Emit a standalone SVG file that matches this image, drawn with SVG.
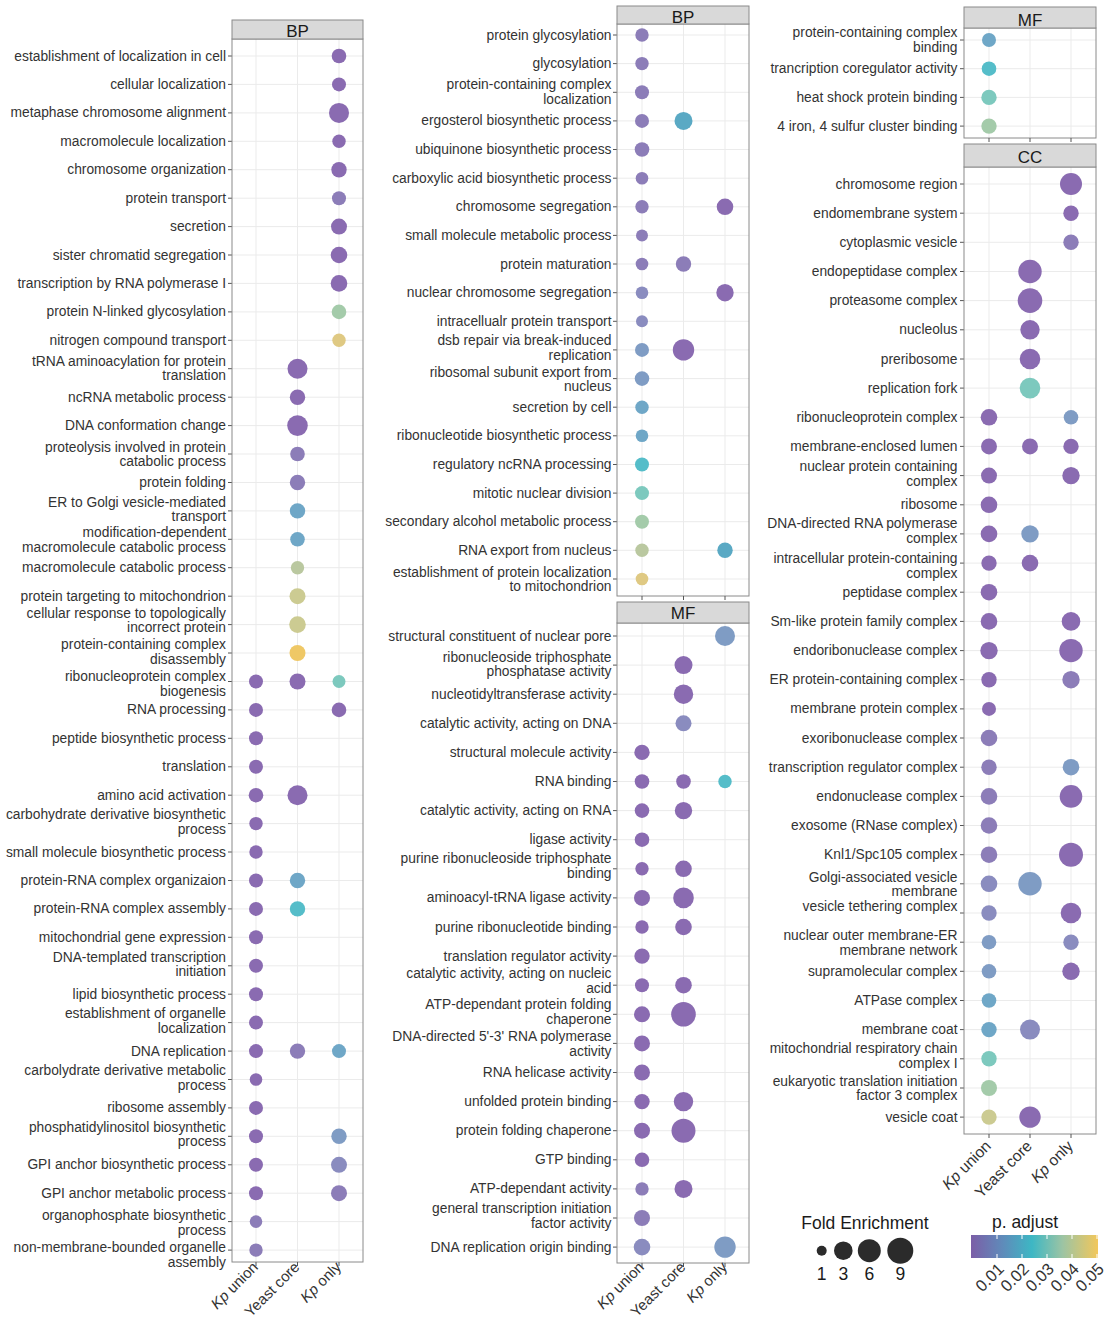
<svg xmlns="http://www.w3.org/2000/svg" width="1111" height="1322" viewBox="0 0 1111 1322">
<style>
text{font-family:"Liberation Sans",Arial,sans-serif;fill:#333}
.lb{font-size:13.8px;text-anchor:end}
.g{stroke:#ebebeb;stroke-width:1;fill:none}
.tk{stroke:#555;stroke-width:1;fill:none}
.bd{fill:none;stroke:#8a8a8a;stroke-width:1}
.bg{fill:#fff}
.st{fill:#d9d9d9;stroke:#8a8a8a;stroke-width:1}
.stt{font-size:17px;text-anchor:middle;fill:#1a1a1a}
.ax{font-size:15px;text-anchor:end}
.lg{font-size:17.5px;text-anchor:middle;fill:#1a1a1a}
.p1{fill:#8a6bb1}.p2{fill:#8c7db8}.pb{fill:#8a8cbf}.b1{fill:#7f9cc4}.b2{fill:#6fa7c7}.b3{fill:#5aa9c4}
.t1{fill:#55bdc9}.t2{fill:#7dc9be}.g1{fill:#a4cbaa}.g2{fill:#bac8a0}.y1{fill:#cccb92}.y2{fill:#dfc983}.y3{fill:#efc866}
</style>
<defs>
<linearGradient id="pg" x1="0" y1="0" x2="1" y2="0">
<stop offset="0" stop-color="#7b5ea7"/>
<stop offset="0.25" stop-color="#5f8bba"/>
<stop offset="0.48" stop-color="#3db7c4"/>
<stop offset="0.72" stop-color="#9cc4a4"/>
<stop offset="1" stop-color="#f2c75b"/>
</linearGradient>
</defs>
<rect width="1111" height="1322" fill="#fff"/>

<!-- ================= Panel 1 : BP ================= -->
<g id="panel-bp1">
<rect class="bg" x="232" y="39" width="131" height="1223"/>
<path class="g" d="M256 39V1262M297.5 39V1262M339 39V1262"/>
<g id="bp1-r00"><path class="g" d="M232 56H363"/><path class="tk" d="M228 56H232"/><text class="lb" x="226" y="60.5">establishment of localization in cell</text><circle class="p1" cx="339" cy="56" r="7.3"/></g>
<g id="bp1-r01"><path class="g" d="M232 84.4H363"/><path class="tk" d="M228 84.4H232"/><text class="lb" x="226" y="88.9">cellular localization</text><circle class="p1" cx="339" cy="84.4" r="7"/></g>
<g id="bp1-r02"><path class="g" d="M232 112.9H363"/><path class="tk" d="M228 112.9H232"/><text class="lb" x="226" y="117.4">metaphase chromosome alignment</text><circle class="p1" cx="339" cy="112.9" r="10"/></g>
<g id="bp1-r03"><path class="g" d="M232 141.3H363"/><path class="tk" d="M228 141.3H232"/><text class="lb" x="226" y="145.8">macromolecule localization</text><circle class="p1" cx="339" cy="141.3" r="6.7"/></g>
<g id="bp1-r04"><path class="g" d="M232 169.7H363"/><path class="tk" d="M228 169.7H232"/><text class="lb" x="226" y="174.2">chromosome organization</text><circle class="p1" cx="339" cy="169.7" r="7.7"/></g>
<g id="bp1-r05"><path class="g" d="M232 198.2H363"/><path class="tk" d="M228 198.2H232"/><text class="lb" x="226" y="202.7">protein transport</text><circle class="p2" cx="339" cy="198.2" r="7"/></g>
<g id="bp1-r06"><path class="g" d="M232 226.6H363"/><path class="tk" d="M228 226.6H232"/><text class="lb" x="226" y="231.1">secretion</text><circle class="p1" cx="339" cy="226.6" r="8"/></g>
<g id="bp1-r07"><path class="g" d="M232 255H363"/><path class="tk" d="M228 255H232"/><text class="lb" x="226" y="259.5">sister chromatid segregation</text><circle class="p1" cx="339" cy="255" r="8.3"/></g>
<g id="bp1-r08"><path class="g" d="M232 283.4H363"/><path class="tk" d="M228 283.4H232"/><text class="lb" x="226" y="287.9">transcription by RNA polymerase I</text><circle class="p1" cx="339" cy="283.4" r="8.3"/></g>
<g id="bp1-r09"><path class="g" d="M232 311.9H363"/><path class="tk" d="M228 311.9H232"/><text class="lb" x="226" y="316.4">protein N-linked glycosylation</text><circle class="g1" cx="339" cy="311.9" r="7.3"/></g>
<g id="bp1-r10"><path class="g" d="M232 340.3H363"/><path class="tk" d="M228 340.3H232"/><text class="lb" x="226" y="344.8">nitrogen compound transport</text><circle class="y2" cx="339" cy="340.3" r="6.7"/></g>
<g id="bp1-r11"><path class="g" d="M232 368.7H363"/><path class="tk" d="M228 368.7H232"/><text class="lb"><tspan x="226" y="365.5">tRNA aminoacylation for protein</tspan><tspan x="226" y="380.2">translation</tspan></text><circle class="p1" cx="297.5" cy="368.7" r="10"/></g>
<g id="bp1-r12"><path class="g" d="M232 397.2H363"/><path class="tk" d="M228 397.2H232"/><text class="lb" x="226" y="401.7">ncRNA metabolic process</text><circle class="p1" cx="297.5" cy="397.2" r="7.7"/></g>
<g id="bp1-r13"><path class="g" d="M232 425.6H363"/><path class="tk" d="M228 425.6H232"/><text class="lb" x="226" y="430.1">DNA conformation change</text><circle class="p1" cx="297.5" cy="425.6" r="10.3"/></g>
<g id="bp1-r14"><path class="g" d="M232 454H363"/><path class="tk" d="M228 454H232"/><text class="lb"><tspan x="226" y="451.5">proteolysis involved in protein</tspan><tspan x="226" y="466.2">catabolic process</tspan></text><circle class="p2" cx="297.5" cy="454" r="7.3"/></g>
<g id="bp1-r15"><path class="g" d="M232 482.5H363"/><path class="tk" d="M228 482.5H232"/><text class="lb" x="226" y="487">protein folding</text><circle class="p2" cx="297.5" cy="482.5" r="7.7"/></g>
<g id="bp1-r16"><path class="g" d="M232 510.9H363"/><path class="tk" d="M228 510.9H232"/><text class="lb"><tspan x="226" y="506.5">ER to Golgi vesicle-mediated</tspan><tspan x="226" y="521.2">transport</tspan></text><circle class="b2" cx="297.5" cy="510.9" r="7.7"/></g>
<g id="bp1-r17"><path class="g" d="M232 539.3H363"/><path class="tk" d="M228 539.3H232"/><text class="lb"><tspan x="226" y="537.1">modification-dependent</tspan><tspan x="226" y="551.8">macromolecule catabolic process</tspan></text><circle class="b2" cx="297.5" cy="539.3" r="7.3"/></g>
<g id="bp1-r18"><path class="g" d="M232 567.7H363"/><path class="tk" d="M228 567.7H232"/><text class="lb" x="226" y="572.2">macromolecule catabolic process</text><circle class="g2" cx="297.5" cy="567.7" r="6.7"/></g>
<g id="bp1-r19"><path class="g" d="M232 596.2H363"/><path class="tk" d="M228 596.2H232"/><text class="lb" x="226" y="600.7">protein targeting to mitochondrion</text><circle class="y1" cx="297.5" cy="596.2" r="8"/></g>
<g id="bp1-r20"><path class="g" d="M232 624.6H363"/><path class="tk" d="M228 624.6H232"/><text class="lb"><tspan x="226" y="617.5">cellular response to topologically</tspan><tspan x="226" y="632.2">incorrect protein</tspan></text><circle class="y1" cx="297.5" cy="624.6" r="8.3"/></g>
<g id="bp1-r21"><path class="g" d="M232 653H363"/><path class="tk" d="M228 653H232"/><text class="lb"><tspan x="226" y="648.8">protein-containing complex</tspan><tspan x="226" y="663.5">disassembly</tspan></text><circle class="y3" cx="297.5" cy="653" r="8"/></g>
<g id="bp1-r22"><path class="g" d="M232 681.5H363"/><path class="tk" d="M228 681.5H232"/><text class="lb"><tspan x="226" y="680.8">ribonucleoprotein complex</tspan><tspan x="226" y="695.5">biogenesis</tspan></text><circle class="p1" cx="256" cy="681.5" r="7"/><circle class="p1" cx="297.5" cy="681.5" r="8"/><circle class="t2" cx="339" cy="681.5" r="6.5"/></g>
<g id="bp1-r23"><path class="g" d="M232 709.9H363"/><path class="tk" d="M228 709.9H232"/><text class="lb" x="226" y="714.4">RNA processing</text><circle class="p1" cx="256" cy="709.9" r="7"/><circle class="p1" cx="339" cy="709.9" r="7.3"/></g>
<g id="bp1-r24"><path class="g" d="M232 738.3H363"/><path class="tk" d="M228 738.3H232"/><text class="lb" x="226" y="742.8">peptide biosynthetic process</text><circle class="p1" cx="256" cy="738.3" r="7"/></g>
<g id="bp1-r25"><path class="g" d="M232 766.8H363"/><path class="tk" d="M228 766.8H232"/><text class="lb" x="226" y="771.3">translation</text><circle class="p1" cx="256" cy="766.8" r="7"/></g>
<g id="bp1-r26"><path class="g" d="M232 795.2H363"/><path class="tk" d="M228 795.2H232"/><text class="lb" x="226" y="799.7">amino acid activation</text><circle class="p1" cx="256" cy="795.2" r="7.3"/><circle class="p1" cx="297.5" cy="795.2" r="10"/></g>
<g id="bp1-r27"><path class="g" d="M232 823.6H363"/><path class="tk" d="M228 823.6H232"/><text class="lb"><tspan x="226" y="818.8">carbohydrate derivative biosynthetic</tspan><tspan x="226" y="833.5">process</tspan></text><circle class="p1" cx="256" cy="823.6" r="6.7"/></g>
<g id="bp1-r28"><path class="g" d="M232 852H363"/><path class="tk" d="M228 852H232"/><text class="lb" x="226" y="856.5">small molecule biosynthetic process</text><circle class="p1" cx="256" cy="852" r="6.7"/></g>
<g id="bp1-r29"><path class="g" d="M232 880.5H363"/><path class="tk" d="M228 880.5H232"/><text class="lb" x="226" y="885">protein-RNA complex organizaion</text><circle class="p1" cx="256" cy="880.5" r="7"/><circle class="b2" cx="297.5" cy="880.5" r="7.7"/></g>
<g id="bp1-r30"><path class="g" d="M232 908.9H363"/><path class="tk" d="M228 908.9H232"/><text class="lb" x="226" y="913.4">protein-RNA complex assembly</text><circle class="p1" cx="256" cy="908.9" r="7"/><circle class="t1" cx="297.5" cy="908.9" r="7.7"/></g>
<g id="bp1-r31"><path class="g" d="M232 937.3H363"/><path class="tk" d="M228 937.3H232"/><text class="lb" x="226" y="941.8">mitochondrial gene expression</text><circle class="p1" cx="256" cy="937.3" r="7"/></g>
<g id="bp1-r32"><path class="g" d="M232 965.8H363"/><path class="tk" d="M228 965.8H232"/><text class="lb"><tspan x="226" y="961.5">DNA-templated transcription</tspan><tspan x="226" y="976.2">initiation</tspan></text><circle class="p1" cx="256" cy="965.8" r="7"/></g>
<g id="bp1-r33"><path class="g" d="M232 994.2H363"/><path class="tk" d="M228 994.2H232"/><text class="lb" x="226" y="998.7">lipid biosynthetic process</text><circle class="p1" cx="256" cy="994.2" r="7"/></g>
<g id="bp1-r34"><path class="g" d="M232 1022.6H363"/><path class="tk" d="M228 1022.6H232"/><text class="lb"><tspan x="226" y="1018.1">establishment of organelle</tspan><tspan x="226" y="1032.8">localization</tspan></text><circle class="p1" cx="256" cy="1022.6" r="7"/></g>
<g id="bp1-r35"><path class="g" d="M232 1051.1H363"/><path class="tk" d="M228 1051.1H232"/><text class="lb" x="226" y="1055.6">DNA replication</text><circle class="p1" cx="256" cy="1051.1" r="7"/><circle class="p2" cx="297.5" cy="1051.1" r="7.7"/><circle class="b2" cx="339" cy="1051.1" r="7"/></g>
<g id="bp1-r36"><path class="g" d="M232 1079.5H363"/><path class="tk" d="M228 1079.5H232"/><text class="lb"><tspan x="226" y="1074.8">carbolydrate derivative metabolic</tspan><tspan x="226" y="1089.5">process</tspan></text><circle class="p1" cx="256" cy="1079.5" r="6.3"/></g>
<g id="bp1-r37"><path class="g" d="M232 1107.9H363"/><path class="tk" d="M228 1107.9H232"/><text class="lb" x="226" y="1112.4">ribosome assembly</text><circle class="p1" cx="256" cy="1107.9" r="7"/></g>
<g id="bp1-r38"><path class="g" d="M232 1136.3H363"/><path class="tk" d="M228 1136.3H232"/><text class="lb"><tspan x="226" y="1131.5">phosphatidylinositol biosynthetic</tspan><tspan x="226" y="1146.2">process</tspan></text><circle class="p1" cx="256" cy="1136.3" r="7"/><circle class="b1" cx="339" cy="1136.3" r="7.7"/></g>
<g id="bp1-r39"><path class="g" d="M232 1164.8H363"/><path class="tk" d="M228 1164.8H232"/><text class="lb" x="226" y="1169.3">GPI anchor biosynthetic process</text><circle class="p1" cx="256" cy="1164.8" r="7"/><circle class="pb" cx="339" cy="1164.8" r="8"/></g>
<g id="bp1-r40"><path class="g" d="M232 1193.2H363"/><path class="tk" d="M228 1193.2H232"/><text class="lb" x="226" y="1197.7">GPI anchor metabolic process</text><circle class="p1" cx="256" cy="1193.2" r="7"/><circle class="p2" cx="339" cy="1193.2" r="8"/></g>
<g id="bp1-r41"><path class="g" d="M232 1221.6H363"/><path class="tk" d="M228 1221.6H232"/><text class="lb"><tspan x="226" y="1219.8">organophosphate biosynthetic</tspan><tspan x="226" y="1234.5">process</tspan></text><circle class="p2" cx="256" cy="1221.6" r="6.3"/></g>
<g id="bp1-r42"><path class="g" d="M232 1250.1H363"/><path class="tk" d="M228 1250.1H232"/><text class="lb"><tspan x="226" y="1251.5">non-membrane-bounded organelle</tspan><tspan x="226" y="1267">assembly</tspan></text><circle class="p2" cx="256" cy="1250.1" r="6.7"/></g>
<rect class="bd" x="232" y="39" width="131" height="1223"/>
<rect class="st" x="232" y="20" width="131" height="19"/>
<text class="stt" x="297.5" y="37">BP</text>
<path class="tk" d="M256 1262V1266M297.5 1262V1266M339 1262V1266"/>
<text class="ax" transform="translate(259,1268) rotate(-45)"><tspan font-style="italic">Kp</tspan> union</text>
<text class="ax" transform="translate(300.5,1268) rotate(-45)">Yeast core</text>
<text class="ax" transform="translate(342,1268) rotate(-45)"><tspan font-style="italic">Kp</tspan> only</text>
</g>

<!-- ================= Panel 2 : BP ================= -->
<g id="panel-bp2">
<rect class="bg" x="617" y="24" width="132" height="572"/>
<path class="g" d="M642 24V596M683.5 24V596M725 24V596"/>
<g id="bp2-r00"><path class="g" d="M617 35H749"/><path class="tk" d="M613 35H617"/><text class="lb" x="611.5" y="39.5">protein glycosylation</text><circle class="p2" cx="642" cy="35" r="6.7"/></g>
<g id="bp2-r01"><path class="g" d="M617 63.6H749"/><path class="tk" d="M613 63.6H617"/><text class="lb" x="611.5" y="68.1">glycosylation</text><circle class="p2" cx="642" cy="63.6" r="6.7"/></g>
<g id="bp2-r02"><path class="g" d="M617 92.3H749"/><path class="tk" d="M613 92.3H617"/><text class="lb"><tspan x="611.5" y="89.1">protein-containing complex</tspan><tspan x="611.5" y="103.8">localization</tspan></text><circle class="p2" cx="642" cy="92.3" r="7"/></g>
<g id="bp2-r03"><path class="g" d="M617 120.9H749"/><path class="tk" d="M613 120.9H617"/><text class="lb" x="611.5" y="125.4">ergosterol biosynthetic process</text><circle class="p2" cx="642" cy="120.9" r="7"/><circle class="b3" cx="683.5" cy="120.9" r="9"/></g>
<g id="bp2-r04"><path class="g" d="M617 149.5H749"/><path class="tk" d="M613 149.5H617"/><text class="lb" x="611.5" y="154">ubiquinone biosynthetic process</text><circle class="p2" cx="642" cy="149.5" r="7.3"/></g>
<g id="bp2-r05"><path class="g" d="M617 178.2H749"/><path class="tk" d="M613 178.2H617"/><text class="lb" x="611.5" y="182.7">carboxylic acid biosynthetic process</text><circle class="p2" cx="642" cy="178.2" r="6.3"/></g>
<g id="bp2-r06"><path class="g" d="M617 206.8H749"/><path class="tk" d="M613 206.8H617"/><text class="lb" x="611.5" y="211.3">chromosome segregation</text><circle class="p2" cx="642" cy="206.8" r="6.7"/><circle class="p1" cx="725" cy="206.8" r="8.3"/></g>
<g id="bp2-r07"><path class="g" d="M617 235.4H749"/><path class="tk" d="M613 235.4H617"/><text class="lb" x="611.5" y="239.9">small molecule metabolic process</text><circle class="p2" cx="642" cy="235.4" r="6"/></g>
<g id="bp2-r08"><path class="g" d="M617 264H749"/><path class="tk" d="M613 264H617"/><text class="lb" x="611.5" y="268.5">protein maturation</text><circle class="p2" cx="642" cy="264" r="6.3"/><circle class="p2" cx="683.5" cy="264" r="7.7"/></g>
<g id="bp2-r09"><path class="g" d="M617 292.7H749"/><path class="tk" d="M613 292.7H617"/><text class="lb" x="611.5" y="297.2">nuclear chromosome segregation</text><circle class="pb" cx="642" cy="292.7" r="6.3"/><circle class="p1" cx="725" cy="292.7" r="8.7"/></g>
<g id="bp2-r10"><path class="g" d="M617 321.3H749"/><path class="tk" d="M613 321.3H617"/><text class="lb" x="611.5" y="325.8">intracellualr protein transport</text><circle class="pb" cx="642" cy="321.3" r="6"/></g>
<g id="bp2-r11"><path class="g" d="M617 349.9H749"/><path class="tk" d="M613 349.9H617"/><text class="lb"><tspan x="611.5" y="344.8">dsb repair via break-induced</tspan><tspan x="611.5" y="359.5">replication</tspan></text><circle class="b1" cx="642" cy="349.9" r="7"/><circle class="p1" cx="683.5" cy="349.9" r="10.7"/></g>
<g id="bp2-r12"><path class="g" d="M617 378.6H749"/><path class="tk" d="M613 378.6H617"/><text class="lb"><tspan x="611.5" y="376.5">ribosomal subunit export from</tspan><tspan x="611.5" y="391.2">nucleus</tspan></text><circle class="b1" cx="642" cy="378.6" r="7.3"/></g>
<g id="bp2-r13"><path class="g" d="M617 407.2H749"/><path class="tk" d="M613 407.2H617"/><text class="lb" x="611.5" y="411.7">secretion by cell</text><circle class="b2" cx="642" cy="407.2" r="6.7"/></g>
<g id="bp2-r14"><path class="g" d="M617 435.8H749"/><path class="tk" d="M613 435.8H617"/><text class="lb" x="611.5" y="440.3">ribonucleotide biosynthetic process</text><circle class="b2" cx="642" cy="435.8" r="6.3"/></g>
<g id="bp2-r15"><path class="g" d="M617 464.5H749"/><path class="tk" d="M613 464.5H617"/><text class="lb" x="611.5" y="469">regulatory ncRNA processing</text><circle class="t1" cx="642" cy="464.5" r="7"/></g>
<g id="bp2-r16"><path class="g" d="M617 493.1H749"/><path class="tk" d="M613 493.1H617"/><text class="lb" x="611.5" y="497.6">mitotic nuclear division</text><circle class="t2" cx="642" cy="493.1" r="7"/></g>
<g id="bp2-r17"><path class="g" d="M617 521.7H749"/><path class="tk" d="M613 521.7H617"/><text class="lb" x="611.5" y="526.2">secondary alcohol metabolic process</text><circle class="g1" cx="642" cy="521.7" r="7"/></g>
<g id="bp2-r18"><path class="g" d="M617 550.3H749"/><path class="tk" d="M613 550.3H617"/><text class="lb" x="611.5" y="554.8">RNA export from nucleus</text><circle class="g2" cx="642" cy="550.3" r="6.7"/><circle class="b3" cx="725" cy="550.3" r="7.7"/></g>
<g id="bp2-r19"><path class="g" d="M617 579H749"/><path class="tk" d="M613 579H617"/><text class="lb"><tspan x="611.5" y="576.5">establishment of protein localization</tspan><tspan x="611.5" y="591.2">to mitochondrion</tspan></text><circle class="y2" cx="642" cy="579" r="6.3"/></g>
<rect class="bd" x="617" y="24" width="132" height="572"/>
<rect class="st" x="617" y="6" width="132" height="18"/>
<text class="stt" x="683" y="23">BP</text>
<path class="tk" d="M642 596V600M683.5 596V600M725 596V600"/>
</g>

<!-- ================= Panel 2 : MF ================= -->
<g id="panel-mf2">
<rect class="bg" x="617" y="623" width="132" height="640"/>
<path class="g" d="M642 623V1263M683.5 623V1263M725 623V1263"/>
<g id="mf2-r00"><path class="g" d="M617 636H749"/><path class="tk" d="M613 636H617"/><text class="lb" x="611.5" y="640.5">structural constituent of nuclear pore</text><circle class="b1" cx="725" cy="636" r="10"/></g>
<g id="mf2-r01"><path class="g" d="M617 665.1H749"/><path class="tk" d="M613 665.1H617"/><text class="lb"><tspan x="611.5" y="661.5">ribonucleoside triphosphate</tspan><tspan x="611.5" y="676.2">phosphatase activity</tspan></text><circle class="p1" cx="683.5" cy="665.1" r="9"/></g>
<g id="mf2-r02"><path class="g" d="M617 694.2H749"/><path class="tk" d="M613 694.2H617"/><text class="lb" x="611.5" y="698.7">nucleotidyltransferase activity</text><circle class="p1" cx="683.5" cy="694.2" r="9.7"/></g>
<g id="mf2-r03"><path class="g" d="M617 723.3H749"/><path class="tk" d="M613 723.3H617"/><text class="lb" x="611.5" y="727.8">catalytic activity, acting on DNA</text><circle class="pb" cx="683.5" cy="723.3" r="8"/></g>
<g id="mf2-r04"><path class="g" d="M617 752.4H749"/><path class="tk" d="M613 752.4H617"/><text class="lb" x="611.5" y="756.9">structural molecule activity</text><circle class="p1" cx="642" cy="752.4" r="7.7"/></g>
<g id="mf2-r05"><path class="g" d="M617 781.5H749"/><path class="tk" d="M613 781.5H617"/><text class="lb" x="611.5" y="786">RNA binding</text><circle class="p1" cx="642" cy="781.5" r="7.3"/><circle class="p1" cx="683.5" cy="781.5" r="7.3"/><circle class="t1" cx="725" cy="781.5" r="6.7"/></g>
<g id="mf2-r06"><path class="g" d="M617 810.6H749"/><path class="tk" d="M613 810.6H617"/><text class="lb" x="611.5" y="815.1">catalytic activity, acting on RNA</text><circle class="p1" cx="642" cy="810.6" r="7.3"/><circle class="p1" cx="683.5" cy="810.6" r="8.7"/></g>
<g id="mf2-r07"><path class="g" d="M617 839.7H749"/><path class="tk" d="M613 839.7H617"/><text class="lb" x="611.5" y="844.2">ligase activity</text><circle class="p1" cx="642" cy="839.7" r="7.3"/></g>
<g id="mf2-r08"><path class="g" d="M617 868.8H749"/><path class="tk" d="M613 868.8H617"/><text class="lb"><tspan x="611.5" y="863.1">purine ribonucleoside triphosphate</tspan><tspan x="611.5" y="877.8">binding</tspan></text><circle class="p1" cx="642" cy="868.8" r="6.7"/><circle class="p1" cx="683.5" cy="868.8" r="8.3"/></g>
<g id="mf2-r09"><path class="g" d="M617 897.9H749"/><path class="tk" d="M613 897.9H617"/><text class="lb" x="611.5" y="902.4">aminoacyl-tRNA ligase activity</text><circle class="p1" cx="642" cy="897.9" r="8"/><circle class="p1" cx="683.5" cy="897.9" r="10.3"/></g>
<g id="mf2-r10"><path class="g" d="M617 927H749"/><path class="tk" d="M613 927H617"/><text class="lb" x="611.5" y="931.5">purine ribonucleotide binding</text><circle class="p1" cx="642" cy="927" r="6.7"/><circle class="p1" cx="683.5" cy="927" r="8.3"/></g>
<g id="mf2-r11"><path class="g" d="M617 956.1H749"/><path class="tk" d="M613 956.1H617"/><text class="lb" x="611.5" y="960.6">translation regulator activity</text><circle class="p1" cx="642" cy="956.1" r="7.7"/></g>
<g id="mf2-r12"><path class="g" d="M617 985.2H749"/><path class="tk" d="M613 985.2H617"/><text class="lb"><tspan x="611.5" y="978.1">catalytic activity, acting on nucleic</tspan><tspan x="611.5" y="992.8">acid</tspan></text><circle class="p1" cx="642" cy="985.2" r="7"/><circle class="p1" cx="683.5" cy="985.2" r="8.3"/></g>
<g id="mf2-r13"><path class="g" d="M617 1014.3H749"/><path class="tk" d="M613 1014.3H617"/><text class="lb"><tspan x="611.5" y="1008.8">ATP-dependant protein folding</tspan><tspan x="611.5" y="1023.5">chaperone</tspan></text><circle class="p1" cx="642" cy="1014.3" r="8"/><circle class="p1" cx="683.5" cy="1014.3" r="12.3"/></g>
<g id="mf2-r14"><path class="g" d="M617 1043.4H749"/><path class="tk" d="M613 1043.4H617"/><text class="lb"><tspan x="611.5" y="1040.8">DNA-directed 5'-3' RNA polymerase</tspan><tspan x="611.5" y="1055.5">activity</tspan></text><circle class="p1" cx="642" cy="1043.4" r="8"/></g>
<g id="mf2-r15"><path class="g" d="M617 1072.5H749"/><path class="tk" d="M613 1072.5H617"/><text class="lb" x="611.5" y="1077">RNA helicase activity</text><circle class="p1" cx="642" cy="1072.5" r="8"/></g>
<g id="mf2-r16"><path class="g" d="M617 1101.6H749"/><path class="tk" d="M613 1101.6H617"/><text class="lb" x="611.5" y="1106.1">unfolded protein binding</text><circle class="p1" cx="642" cy="1101.6" r="7.7"/><circle class="p1" cx="683.5" cy="1101.6" r="9.7"/></g>
<g id="mf2-r17"><path class="g" d="M617 1130.7H749"/><path class="tk" d="M613 1130.7H617"/><text class="lb" x="611.5" y="1135.2">protein folding chaperone</text><circle class="p1" cx="642" cy="1130.7" r="8"/><circle class="p1" cx="683.5" cy="1130.7" r="12"/></g>
<g id="mf2-r18"><path class="g" d="M617 1159.8H749"/><path class="tk" d="M613 1159.8H617"/><text class="lb" x="611.5" y="1164.3">GTP binding</text><circle class="p1" cx="642" cy="1159.8" r="7.3"/></g>
<g id="mf2-r19"><path class="g" d="M617 1188.9H749"/><path class="tk" d="M613 1188.9H617"/><text class="lb" x="611.5" y="1193.4">ATP-dependant activity</text><circle class="p2" cx="642" cy="1188.9" r="6.7"/><circle class="p1" cx="683.5" cy="1188.9" r="9"/></g>
<g id="mf2-r20"><path class="g" d="M617 1218H749"/><path class="tk" d="M613 1218H617"/><text class="lb"><tspan x="611.5" y="1213.1">general transcription initiation</tspan><tspan x="611.5" y="1227.8">factor activity</tspan></text><circle class="p2" cx="642" cy="1218" r="8"/></g>
<g id="mf2-r21"><path class="g" d="M617 1247.1H749"/><path class="tk" d="M613 1247.1H617"/><text class="lb" x="611.5" y="1251.6">DNA replication origin binding</text><circle class="pb" cx="642" cy="1247.1" r="8.3"/><circle class="b1" cx="725" cy="1247.1" r="10.7"/></g>
<rect class="bd" x="617" y="623" width="132" height="640"/>
<rect class="st" x="617" y="602" width="132" height="21"/>
<text class="stt" x="683" y="618.5">MF</text>
<path class="tk" d="M642 1263V1267M683.5 1263V1267M725 1263V1267"/>
<text class="ax" transform="translate(645,1268) rotate(-45)"><tspan font-style="italic">Kp</tspan> union</text>
<text class="ax" transform="translate(686.5,1268) rotate(-45)">Yeast core</text>
<text class="ax" transform="translate(728,1268) rotate(-45)"><tspan font-style="italic">Kp</tspan> only</text>
</g>

<!-- ================= Panel 3 : MF ================= -->
<g id="panel-mf3">
<rect class="bg" x="964" y="28" width="132" height="110"/>
<path class="g" d="M989 28V138M1030 28V138M1071 28V138"/>
<g id="mf3-r00"><path class="g" d="M964 40H1096"/><path class="tk" d="M960 40H964"/><text class="lb"><tspan x="957.5" y="37.1">protein-containing complex</tspan><tspan x="957.5" y="51.8">binding</tspan></text><circle class="b2" cx="989" cy="40" r="7"/></g>
<g id="mf3-r01"><path class="g" d="M964 68.7H1096"/><path class="tk" d="M960 68.7H964"/><text class="lb" x="957.5" y="73.2">trancription coregulator activity</text><circle class="t1" cx="989" cy="68.7" r="7.3"/></g>
<g id="mf3-r02"><path class="g" d="M964 97.4H1096"/><path class="tk" d="M960 97.4H964"/><text class="lb" x="957.5" y="101.9">heat shock protein binding</text><circle class="t2" cx="989" cy="97.4" r="7.7"/></g>
<g id="mf3-r03"><path class="g" d="M964 126.1H1096"/><path class="tk" d="M960 126.1H964"/><text class="lb" x="957.5" y="130.6">4 iron, 4 sulfur cluster binding</text><circle class="g1" cx="989" cy="126.1" r="7.7"/></g>
<rect class="bd" x="964" y="28" width="132" height="110"/>
<rect class="st" x="964" y="7" width="132" height="21"/>
<text class="stt" x="1030" y="26">MF</text>
<path class="tk" d="M989 138V142M1030 138V142M1071 138V142"/>
</g>

<!-- ================= Panel 3 : CC ================= -->
<g id="panel-cc">
<rect class="bg" x="964" y="167" width="132" height="967"/>
<path class="g" d="M989 167V1134M1030 167V1134M1071 167V1134"/>
<g id="cc-r00"><path class="g" d="M964 184H1096"/><path class="tk" d="M960 184H964"/><text class="lb" x="957.5" y="188.5">chromosome region</text><circle class="p1" cx="1071" cy="184" r="11"/></g>
<g id="cc-r01"><path class="g" d="M964 213.2H1096"/><path class="tk" d="M960 213.2H964"/><text class="lb" x="957.5" y="217.7">endomembrane system</text><circle class="p1" cx="1071" cy="213.2" r="7.7"/></g>
<g id="cc-r02"><path class="g" d="M964 242.3H1096"/><path class="tk" d="M960 242.3H964"/><text class="lb" x="957.5" y="246.8">cytoplasmic vesicle</text><circle class="p2" cx="1071" cy="242.3" r="7.7"/></g>
<g id="cc-r03"><path class="g" d="M964 271.5H1096"/><path class="tk" d="M960 271.5H964"/><text class="lb" x="957.5" y="276">endopeptidase complex</text><circle class="p1" cx="1030" cy="271.5" r="11.7"/></g>
<g id="cc-r04"><path class="g" d="M964 300.6H1096"/><path class="tk" d="M960 300.6H964"/><text class="lb" x="957.5" y="305.1">proteasome complex</text><circle class="p1" cx="1030" cy="300.6" r="12.3"/></g>
<g id="cc-r05"><path class="g" d="M964 329.8H1096"/><path class="tk" d="M960 329.8H964"/><text class="lb" x="957.5" y="334.3">nucleolus</text><circle class="p1" cx="1030" cy="329.8" r="9.7"/></g>
<g id="cc-r06"><path class="g" d="M964 359H1096"/><path class="tk" d="M960 359H964"/><text class="lb" x="957.5" y="363.5">preribosome</text><circle class="p1" cx="1030" cy="359" r="10.3"/></g>
<g id="cc-r07"><path class="g" d="M964 388.1H1096"/><path class="tk" d="M960 388.1H964"/><text class="lb" x="957.5" y="392.6">replication fork</text><circle class="t2" cx="1030" cy="388.1" r="10.3"/></g>
<g id="cc-r08"><path class="g" d="M964 417.3H1096"/><path class="tk" d="M960 417.3H964"/><text class="lb" x="957.5" y="421.8">ribonucleoprotein complex</text><circle class="p1" cx="989" cy="417.3" r="8.3"/><circle class="b1" cx="1071" cy="417.3" r="7.3"/></g>
<g id="cc-r09"><path class="g" d="M964 446.4H1096"/><path class="tk" d="M960 446.4H964"/><text class="lb" x="957.5" y="450.9">membrane-enclosed lumen</text><circle class="p1" cx="989" cy="446.4" r="8"/><circle class="p1" cx="1030" cy="446.4" r="8"/><circle class="p1" cx="1071" cy="446.4" r="7.7"/></g>
<g id="cc-r10"><path class="g" d="M964 475.6H1096"/><path class="tk" d="M960 475.6H964"/><text class="lb"><tspan x="957.5" y="470.8">nuclear protein containing</tspan><tspan x="957.5" y="485.5">complex</tspan></text><circle class="p1" cx="989" cy="475.6" r="8"/><circle class="p1" cx="1071" cy="475.6" r="8.7"/></g>
<g id="cc-r11"><path class="g" d="M964 504.8H1096"/><path class="tk" d="M960 504.8H964"/><text class="lb" x="957.5" y="509.3">ribosome</text><circle class="p1" cx="989" cy="504.8" r="8.3"/></g>
<g id="cc-r12"><path class="g" d="M964 533.9H1096"/><path class="tk" d="M960 533.9H964"/><text class="lb"><tspan x="957.5" y="528.1">DNA-directed RNA polymerase</tspan><tspan x="957.5" y="542.8">complex</tspan></text><circle class="p1" cx="989" cy="533.9" r="8.3"/><circle class="b1" cx="1030" cy="533.9" r="8.7"/></g>
<g id="cc-r13"><path class="g" d="M964 563.1H1096"/><path class="tk" d="M960 563.1H964"/><text class="lb"><tspan x="957.5" y="563.1">intracellular protein-containing</tspan><tspan x="957.5" y="577.8">complex</tspan></text><circle class="p1" cx="989" cy="563.1" r="7.7"/><circle class="p1" cx="1030" cy="563.1" r="8.3"/></g>
<g id="cc-r14"><path class="g" d="M964 592.2H1096"/><path class="tk" d="M960 592.2H964"/><text class="lb" x="957.5" y="596.7">peptidase complex</text><circle class="p1" cx="989" cy="592.2" r="8.3"/></g>
<g id="cc-r15"><path class="g" d="M964 621.4H1096"/><path class="tk" d="M960 621.4H964"/><text class="lb" x="957.5" y="625.9">Sm-like protein family complex</text><circle class="p1" cx="989" cy="621.4" r="8.3"/><circle class="p1" cx="1071" cy="621.4" r="9.3"/></g>
<g id="cc-r16"><path class="g" d="M964 650.6H1096"/><path class="tk" d="M960 650.6H964"/><text class="lb" x="957.5" y="655.1">endoribonuclease complex</text><circle class="p1" cx="989" cy="650.6" r="8.7"/><circle class="p1" cx="1071" cy="650.6" r="11.7"/></g>
<g id="cc-r17"><path class="g" d="M964 679.7H1096"/><path class="tk" d="M960 679.7H964"/><text class="lb" x="957.5" y="684.2">ER protein-containing complex</text><circle class="p1" cx="989" cy="679.7" r="7.7"/><circle class="p2" cx="1071" cy="679.7" r="8.7"/></g>
<g id="cc-r18"><path class="g" d="M964 708.9H1096"/><path class="tk" d="M960 708.9H964"/><text class="lb" x="957.5" y="713.4">membrane protein complex</text><circle class="p1" cx="989" cy="708.9" r="7"/></g>
<g id="cc-r19"><path class="g" d="M964 738H1096"/><path class="tk" d="M960 738H964"/><text class="lb" x="957.5" y="742.5">exoribonuclease complex</text><circle class="p2" cx="989" cy="738" r="8.3"/></g>
<g id="cc-r20"><path class="g" d="M964 767.2H1096"/><path class="tk" d="M960 767.2H964"/><text class="lb" x="957.5" y="771.7">transcription regulator complex</text><circle class="p2" cx="989" cy="767.2" r="7.7"/><circle class="b1" cx="1071" cy="767.2" r="8.3"/></g>
<g id="cc-r21"><path class="g" d="M964 796.4H1096"/><path class="tk" d="M960 796.4H964"/><text class="lb" x="957.5" y="800.9">endonuclease complex</text><circle class="p2" cx="989" cy="796.4" r="8.3"/><circle class="p1" cx="1071" cy="796.4" r="11.3"/></g>
<g id="cc-r22"><path class="g" d="M964 825.5H1096"/><path class="tk" d="M960 825.5H964"/><text class="lb" x="957.5" y="830">exosome (RNase complex)</text><circle class="p2" cx="989" cy="825.5" r="8.3"/></g>
<g id="cc-r23"><path class="g" d="M964 854.7H1096"/><path class="tk" d="M960 854.7H964"/><text class="lb" x="957.5" y="859.2">Knl1/Spc105 complex</text><circle class="p2" cx="989" cy="854.7" r="8.3"/><circle class="p1" cx="1071" cy="854.7" r="12"/></g>
<g id="cc-r24"><path class="g" d="M964 883.8H1096"/><path class="tk" d="M960 883.8H964"/><text class="lb"><tspan x="957.5" y="881.5">Golgi-associated vesicle</tspan><tspan x="957.5" y="896.2">membrane</tspan></text><circle class="pb" cx="989" cy="883.8" r="8.3"/><circle class="b1" cx="1030" cy="883.8" r="11.7"/></g>
<g id="cc-r25"><path class="g" d="M964 913H1096"/><path class="tk" d="M960 913H964"/><text class="lb" x="957.5" y="910.5">vesicle tethering complex</text><circle class="pb" cx="989" cy="913" r="7.7"/><circle class="p1" cx="1071" cy="913" r="10.3"/></g>
<g id="cc-r26"><path class="g" d="M964 942.2H1096"/><path class="tk" d="M960 942.2H964"/><text class="lb"><tspan x="957.5" y="939.8">nuclear outer membrane-ER</tspan><tspan x="957.5" y="954.5">membrane network</tspan></text><circle class="b1" cx="989" cy="942.2" r="7.3"/><circle class="pb" cx="1071" cy="942.2" r="7.7"/></g>
<g id="cc-r27"><path class="g" d="M964 971.3H1096"/><path class="tk" d="M960 971.3H964"/><text class="lb" x="957.5" y="975.8">supramolecular complex</text><circle class="b1" cx="989" cy="971.3" r="7.3"/><circle class="p1" cx="1071" cy="971.3" r="8.7"/></g>
<g id="cc-r28"><path class="g" d="M964 1000.5H1096"/><path class="tk" d="M960 1000.5H964"/><text class="lb" x="957.5" y="1005">ATPase complex</text><circle class="b2" cx="989" cy="1000.5" r="7.3"/></g>
<g id="cc-r29"><path class="g" d="M964 1029.6H1096"/><path class="tk" d="M960 1029.6H964"/><text class="lb" x="957.5" y="1034.1">membrane coat</text><circle class="b2" cx="989" cy="1029.6" r="7.7"/><circle class="pb" cx="1030" cy="1029.6" r="10"/></g>
<g id="cc-r30"><path class="g" d="M964 1058.8H1096"/><path class="tk" d="M960 1058.8H964"/><text class="lb"><tspan x="957.5" y="1053.1">mitochondrial respiratory chain</tspan><tspan x="957.5" y="1067.8">complex I</tspan></text><circle class="t2" cx="989" cy="1058.8" r="7.7"/></g>
<g id="cc-r31"><path class="g" d="M964 1088H1096"/><path class="tk" d="M960 1088H964"/><text class="lb"><tspan x="957.5" y="1085.5">eukaryotic translation initiation</tspan><tspan x="957.5" y="1100.2">factor 3 complex</tspan></text><circle class="g1" cx="989" cy="1088" r="8"/></g>
<g id="cc-r32"><path class="g" d="M964 1117.1H1096"/><path class="tk" d="M960 1117.1H964"/><text class="lb" x="957.5" y="1121.6">vesicle coat</text><circle class="y1" cx="989" cy="1117.1" r="7.7"/><circle class="p1" cx="1030" cy="1117.1" r="10.7"/></g>
<rect class="bd" x="964" y="167" width="132" height="967"/>
<rect class="st" x="964" y="144" width="132" height="23"/>
<text class="stt" x="1030" y="163">CC</text>
<path class="tk" d="M989 1134V1138M1030 1134V1138M1071 1134V1138"/>
<text class="ax" style="font-size:15.6px" transform="translate(992,1147) rotate(-45)"><tspan font-style="italic">Kp</tspan> union</text>
<text class="ax" style="font-size:15.6px" transform="translate(1033,1147) rotate(-45)">Yeast core</text>
<text class="ax" style="font-size:15.6px" transform="translate(1074,1147) rotate(-45)"><tspan font-style="italic">Kp</tspan> only</text>
</g>

<!-- ================= Legends ================= -->
<g id="legend-fold">
<text class="lg" x="865" y="1229">Fold Enrichment</text>
<circle cx="821.7" cy="1250.7" r="5" fill="#2b2b2b"/>
<circle cx="843.3" cy="1250.7" r="9.3" fill="#2b2b2b"/>
<circle cx="869.3" cy="1250.7" r="11.5" fill="#2b2b2b"/>
<circle cx="900.3" cy="1250.7" r="13" fill="#2b2b2b"/>
<text class="lg" x="821.7" y="1280">1</text>
<text class="lg" x="843.3" y="1280">3</text>
<text class="lg" x="869.3" y="1280">6</text>
<text class="lg" x="900.3" y="1280">9</text>
</g>
<g id="legend-padj">
<text class="lg" x="1025" y="1228">p. adjust</text>
<rect x="971" y="1235" width="127" height="23" fill="url(#pg)"/>
<path stroke="#fff" stroke-width="1" d="M997 1235V1239M1022 1235V1239M1047 1235V1239M1072 1235V1239M1097 1235V1239M997 1254V1258M1022 1254V1258M1047 1254V1258M1072 1254V1258M1097 1254V1258"/>
<text class="ax" style="font-size:16.5px" transform="translate(1005,1270) rotate(-45)">0.01</text>
<text class="ax" style="font-size:16.5px" transform="translate(1030,1270) rotate(-45)">0.02</text>
<text class="ax" style="font-size:16.5px" transform="translate(1055,1270) rotate(-45)">0.03</text>
<text class="ax" style="font-size:16.5px" transform="translate(1080,1270) rotate(-45)">0.04</text>
<text class="ax" style="font-size:16.5px" transform="translate(1105,1270) rotate(-45)">0.05</text>
</g>
</svg>
